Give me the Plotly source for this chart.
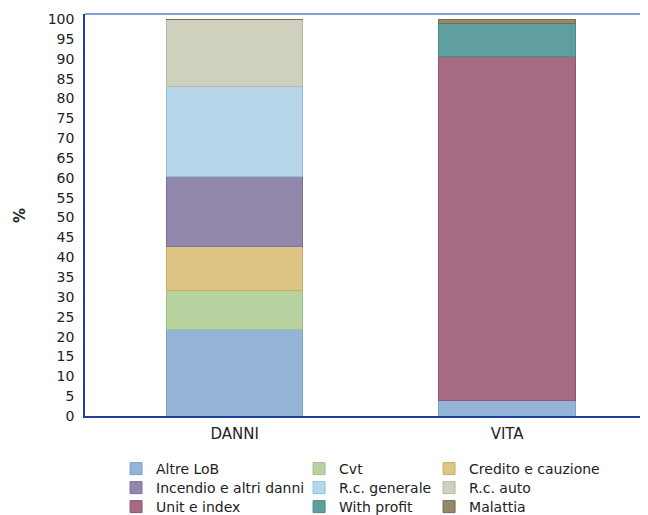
import plotly.graph_objects as go

categories = ["DANNI", "VITA"]
series_names = ["Altre LoB", "Cvt", "Credito e cauzione", "Incendio e altri danni",
                "R.c. generale", "R.c. auto", "Unit e index", "With profit", "Malattia"]
danni = [21.9, 9.8, 10.9, 17.7, 22.7, 17.0, 0, 0, 0]
vita = [4.0, 0, 0, 0, 0, 0, 86.7, 8.2, 1.1]
y_ticks = list(range(0, 101, 5))

colors = ["#95b5d8", "#b8d3a0", "#dcc585", "#9187ab", "#b6d7ea", "#d0d0be",
          "#a46b83", "#5f9fa0", "#968868"]
lines = ["#7e9fc6", "#9fbf88", "#c8ad68", "#7d6f9c", "#8ec0e4", "#b7b7a4",
         "#8e5570", "#4e8a8b", "#7a6c4d"]

col_x = [0.1688, 0.4548, 0.6579]
row_y = [0.1223, 0.0848, 0.0473]

fig = go.Figure()
legends = {}
for i, name in enumerate(series_names):
    lid = "legend" if i == 0 else f"legend{i + 1}"
    fig.add_trace(go.Bar(
        x=categories, y=[danni[i], vita[i]], name=name, width=0.5,
        marker=dict(color=colors[i], line=dict(color=lines[i], width=1)),
        legend=lid, showlegend=True,
    ))
    legends[lid] = dict(orientation="v", xref="container", yref="container",
                        yanchor="top", xanchor="left", bgcolor="rgba(0,0,0,0)",
                        font=dict(family="DejaVu Sans", size=14, color="#222222"),
                        itemwidth=30, x=col_x[i % 3], y=row_y[i // 3])

fig.update_layout(
    width=640, height=507,
    margin=dict(l=77, r=0, t=6, b=99, autoexpand=False),
    barmode="stack",
    showlegend=True,
    plot_bgcolor="white", paper_bgcolor="white",
    font=dict(family="DejaVu Sans", size=14, color="#222222"),
    xaxis=dict(type="category", range=[-0.549, 1.517], showline=True, linecolor="#1f3f9f",
               linewidth=1.5, ticks="", showgrid=False, automargin=False,
               ticklabelstandoff=3, tickfont=dict(size=15)),
    yaxis=dict(range=[0, 101.3], tickvals=y_ticks, showline=True, linecolor="#1f3f9f",
               linewidth=1.5, ticks="", showgrid=False, zeroline=False, automargin=False,
               ticklabelstandoff=6, tickfont=dict(size=14)),
    shapes=[dict(type="line", xref="paper", yref="paper", x0=0, x1=1, y0=1, y1=1,
                 line=dict(color="#5b7cc6", width=1.5))],
    annotations=[dict(text="<b>%</b>", xref="paper", yref="paper", x=-0.135, y=0.5,
                      textangle=-90, showarrow=False, font=dict(size=15, color="#222222"))],
    **legends,
)

fig.write_html("out.html")
